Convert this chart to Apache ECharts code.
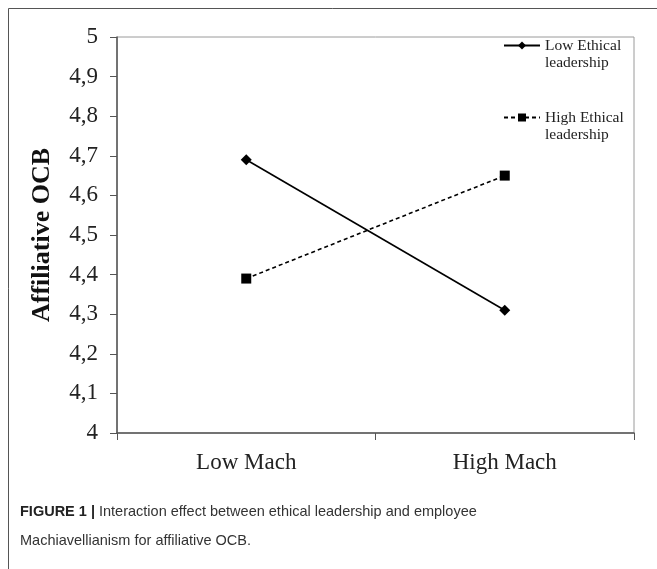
<!DOCTYPE html>
<html>
<head>
<meta charset="utf-8">
<script src="https://cdn.jsdelivr.net/npm/echarts@6/dist/echarts.min.js"></script>
<style>
  html, body { margin: 0; padding: 0; background: #fff; }
  #chart { width: 657px; height: 569px; }
</style>
</head>
<body>
<div id="chart"></div>
<script>
// categories and values
const categories = ['Low Mach', 'High Mach'];
const lowEthical = [4.69, 4.31];
const highEthical = [4.39, 4.65];
const seriesNames = ['Low Ethical\nleadership', 'High Ethical\nleadership'];

const serif = '"Liberation Serif", "Times New Roman", serif';

const chart = echarts.init(document.getElementById('chart'));

chart.setOption({
  animation: false,
  backgroundColor: '#fff',
  grid: {
    left: 117,
    right: 23,
    top: 37,
    bottom: 136,
    show: true,
    borderColor: '#9a9a9a',
    borderWidth: 1
  },
  legend: {
    orient: 'vertical',
    left: 498,
    top: 15,
    itemWidth: 36,
    itemHeight: 10,
    itemGap: 21,
    // blank first line so the icon lines up with "Low Ethical"
    formatter: name => '\n' + name,
    textStyle: { fontFamily: serif, fontSize: 15.5, color: '#222', lineHeight: 17 },
    data: seriesNames
  },
  xAxis: {
    type: 'category',
    data: categories,
    axisLine: { lineStyle: { color: '#555', width: 1.5 } },
    axisTick: { show: true, length: 7, lineStyle: { color: '#555' } },
    axisLabel: { fontFamily: serif, fontSize: 23, color: '#222', margin: 18 }
  },
  yAxis: {
    type: 'value',
    min: 4,
    max: 5,
    interval: 0.1,
    name: 'Affiliative OCB',
    nameLocation: 'middle',
    nameGap: 62,
    nameTextStyle: { fontFamily: serif, fontSize: 26, fontWeight: 'bold', color: '#111' },
    splitLine: { show: false },
    axisLine: { show: true, lineStyle: { color: '#555', width: 1.5 } },
    axisTick: { show: true, length: 7, lineStyle: { color: '#555' } },
    axisLabel: {
      fontFamily: serif, fontSize: 23, color: '#222', margin: 19,
      formatter: v => String(Math.round(v * 10) / 10).replace('.', ',')
    }
  },
  series: [
    {
      name: seriesNames[0],
      type: 'line',
      data: lowEthical,
      symbol: 'diamond',
      symbolSize: 11,
      itemStyle: { color: '#000' },
      lineStyle: { color: '#000', width: 1.6, type: 'solid' }
    },
    {
      name: seriesNames[1],
      type: 'line',
      data: highEthical,
      symbol: 'rect',
      symbolSize: 10,
      itemStyle: { color: '#000' },
      lineStyle: { color: '#000', width: 1.6, type: [4, 3] }
    }
  ],
  graphic: [
    { type: 'line', shape: { x1: 8.5, y1: 8.5, x2: 657, y2: 8.5 }, style: { stroke: '#555', lineWidth: 1 } },
    { type: 'line', shape: { x1: 8.5, y1: 8.5, x2: 8.5, y2: 569 }, style: { stroke: '#555', lineWidth: 1 } },
    {
      type: 'text',
      left: 20,
      top: 497,
      style: {
        text: '{b|FIGURE 1 |} Interaction effect between ethical leadership and employee\nMachiavellianism for affiliative OCB.',
        fontFamily: '"Liberation Sans", Arial, sans-serif',
        fontSize: 14.5,
        lineHeight: 29,
        fill: '#333',
        rich: {
          b: { fontFamily: '"Liberation Sans", Arial, sans-serif', fontSize: 14.5, fontWeight: 'bold', fill: '#222' }
        }
      }
    }
  ]
});
</script>
</body>
</html>
